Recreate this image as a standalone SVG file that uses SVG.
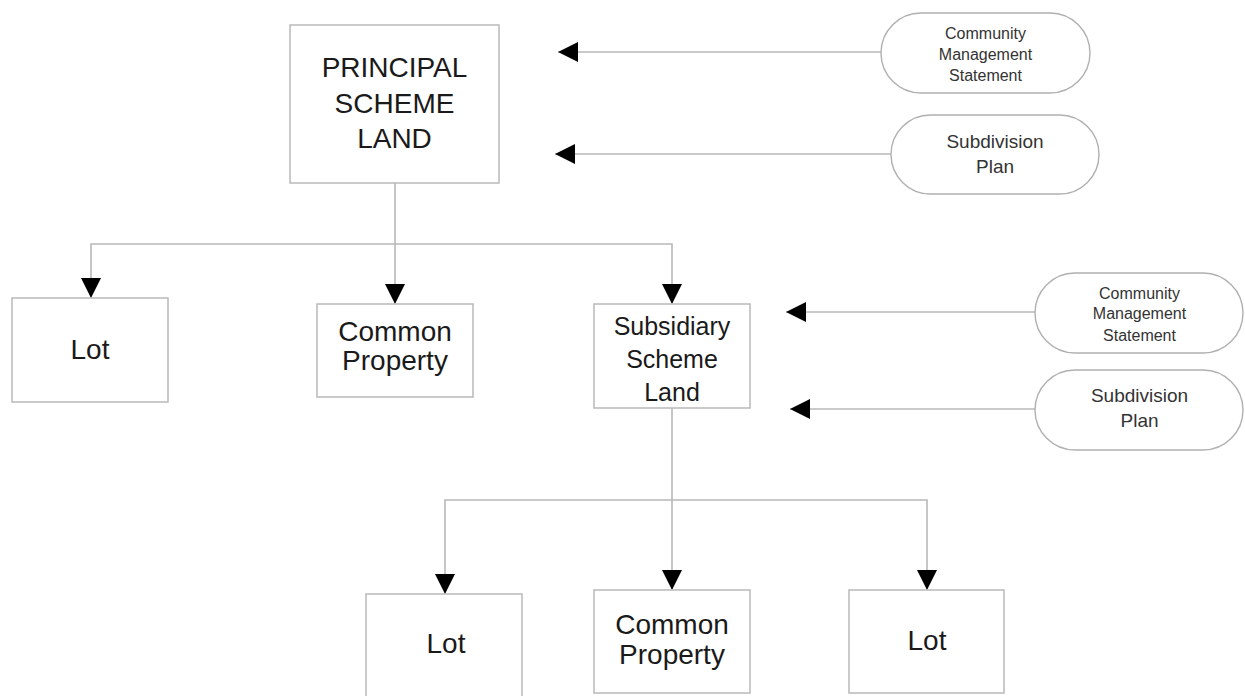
<svg xmlns="http://www.w3.org/2000/svg" width="1245" height="696" viewBox="0 0 1245 696">
<defs>
<marker id="arr" markerUnits="userSpaceOnUse" viewBox="0 0 20 20" refX="20" refY="10" markerWidth="20" markerHeight="20" orient="auto">
<path d="M0,0 L20,10 L0,20 z" fill="#000"/>
</marker>
<style>
.box{fill:#fff;stroke:#bdbdbd;stroke-width:1.6}
.pill{fill:#fff;stroke:#b0b0b0;stroke-width:1.4}
.ln{fill:none;stroke:#b8b8b8;stroke-width:1.6}
.t{font-family:"Liberation Sans",Arial,sans-serif;fill:#1a1a1a;text-anchor:middle}
.big{font-size:28px}
.mid{font-size:25px}
.sm{font-size:16px;fill:#333}
.sd{font-size:19px;fill:#333}
</style>
</defs>
<rect width="1245" height="696" fill="#fff"/>
<g id="connectors">
<path class="ln" d="M881,52 H558" marker-end="url(#arr)"/>
<path class="ln" d="M891,154 H555" marker-end="url(#arr)"/>
<path class="ln" d="M1035,312 H786" marker-end="url(#arr)"/>
<path class="ln" d="M1035,409 H790" marker-end="url(#arr)"/>
<path class="ln" d="M395,183 V304" marker-end="url(#arr)"/>
<path class="ln" d="M395,244 H91 V298" marker-end="url(#arr)"/>
<path class="ln" d="M395,244 H672 V304" marker-end="url(#arr)"/>
<path class="ln" d="M672,408 V590" marker-end="url(#arr)"/>
<path class="ln" d="M672,500 H445 V594" marker-end="url(#arr)"/>
<path class="ln" d="M672,500 H927 V590" marker-end="url(#arr)"/>
</g>
<g id="principal">
<rect class="box" x="290" y="25" width="209" height="158"/>
<text class="t big" x="394.5" y="77">PRINCIPAL</text>
<text class="t big" x="394.5" y="113">SCHEME</text>
<text class="t big" x="394.5" y="148">LAND</text>
</g>
<g id="cms1">
<rect class="pill" x="881" y="13" width="209" height="80" rx="40" ry="40"/>
<text class="t sm" x="985.5" y="39">Community</text>
<text class="t sm" x="985.5" y="60">Management</text>
<text class="t sm" x="985.5" y="80.5">Statement</text>
</g>
<g id="subplan1">
<rect class="pill" x="891" y="115" width="208" height="79" rx="39.5" ry="39.5"/>
<text class="t sd" x="995" y="148">Subdivision</text>
<text class="t sd" x="995" y="173">Plan</text>
</g>
<g id="lot1">
<rect class="box" x="12" y="298" width="156" height="104"/>
<text class="t big" x="90" y="359">Lot</text>
</g>
<g id="common1">
<rect class="box" x="317" y="304" width="156" height="93"/>
<text class="t big" x="395" y="341">Common</text>
<text class="t big" x="395" y="370">Property</text>
</g>
<g id="subsidiary">
<rect class="box" x="594" y="304" width="156" height="104"/>
<text class="t mid" x="672" y="335">Subsidiary</text>
<text class="t mid" x="672" y="368">Scheme</text>
<text class="t mid" x="672" y="401">Land</text>
</g>
<g id="cms2">
<rect class="pill" x="1035" y="273" width="208" height="80" rx="40" ry="40"/>
<text class="t sm" x="1139.5" y="298.5">Community</text>
<text class="t sm" x="1139.5" y="319">Management</text>
<text class="t sm" x="1139.5" y="340.5">Statement</text>
</g>
<g id="subplan2">
<rect class="pill" x="1035" y="370" width="208" height="80" rx="40" ry="40"/>
<text class="t sd" x="1139.5" y="402">Subdivision</text>
<text class="t sd" x="1139.5" y="427">Plan</text>
</g>
<g id="lot2">
<rect class="box" x="366" y="594" width="156" height="110"/>
<text class="t big" x="446" y="653">Lot</text>
</g>
<g id="common2">
<rect class="box" x="594" y="590" width="156" height="103"/>
<text class="t big" x="672" y="634">Common</text>
<text class="t big" x="672" y="664">Property</text>
</g>
<g id="lot3">
<rect class="box" x="849" y="590" width="155" height="103"/>
<text class="t big" x="927" y="650">Lot</text>
</g>
</svg>
